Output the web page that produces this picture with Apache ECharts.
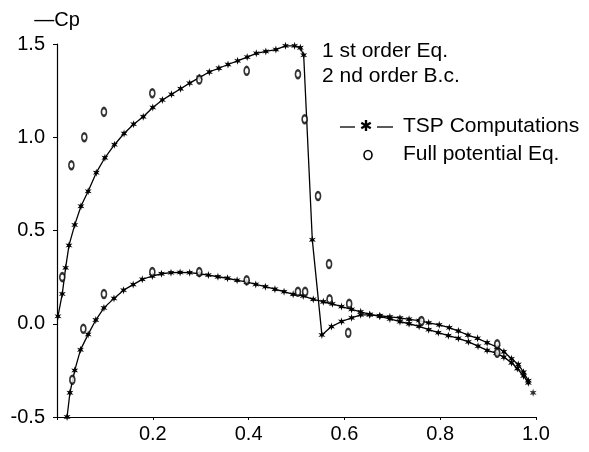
<!DOCTYPE html>
<html>
<head>
<meta charset="utf-8">
<script src="https://cdn.jsdelivr.net/npm/echarts@6/dist/echarts.min.js"></script>
<style>html,body{margin:0;padding:0;background:#fff}#c{width:589px;height:452px}</style>
</head>
<body>
<div id="c"></div>
<script>
// TSP computations, upper surface (x/c, -Cp)
var upperX = [0.002,0.011,0.018,0.025,0.037,0.050,0.065,0.082,0.100,0.120,0.140,0.160,0.180,0.200,0.220,0.239,0.258,0.277,0.297,0.318,0.338,0.357,0.377,0.397,0.416,0.436,0.457,0.477,0.496,0.508,0.515,0.533,0.553,0.573,0.594,0.615,0.634,0.653,0.674,0.695,0.716,0.735,0.756,0.776,0.798,0.819,0.838,0.858,0.878,0.898,0.919,0.933,0.949,0.963,0.974,0.984];
var upperY = [0.04,0.16,0.30,0.42,0.53,0.63,0.71,0.81,0.89,0.96,1.02,1.07,1.11,1.16,1.20,1.23,1.26,1.29,1.32,1.35,1.37,1.39,1.41,1.43,1.45,1.46,1.47,1.49,1.49,1.48,1.44,0.45,-0.06,-0.015,0.012,0.032,0.048,0.048,0.043,0.037,0.031,0.024,0.017,0.005,-0.006,-0.021,-0.039,-0.061,-0.078,-0.102,-0.125,-0.150,-0.188,-0.218,-0.260,-0.305];
// TSP computations, lower surface
var lowerX = [0.021,0.027,0.037,0.049,0.065,0.081,0.098,0.119,0.139,0.159,0.178,0.199,0.218,0.238,0.257,0.277,0.297,0.316,0.336,0.356,0.376,0.396,0.415,0.435,0.455,0.474,0.493,0.514,0.535,0.556,0.575,0.594,0.615,0.634,0.653,0.674,0.695,0.716,0.735,0.756,0.776,0.796,0.817,0.838,0.859,0.879,0.898,0.917,0.933,0.949,0.961,0.974,0.984];
var lowerY = [-0.50,-0.37,-0.25,-0.14,-0.057,0.02,0.085,0.136,0.18,0.21,0.238,0.256,0.268,0.274,0.275,0.274,0.268,0.261,0.252,0.244,0.233,0.224,0.211,0.199,0.185,0.172,0.158,0.149,0.131,0.118,0.107,0.092,0.077,0.064,0.050,0.040,0.026,0.011,0.000,-0.014,-0.032,-0.048,-0.064,-0.078,-0.097,-0.120,-0.143,-0.158,-0.179,-0.209,-0.240,-0.280,-0.317];
// TSP trailing-edge point
var teX = [0.994];
var teY = [-0.37];
// Full potential equation
var fpX = [0.011,0.030,0.057,0.098,0.199,0.297,0.396,0.503,0.517,0.545,0.568,0.608,0.032,0.055,0.098,0.199,0.297,0.396,0.503,0.518,0.569,0.610,0.761,0.919,0.919];
var fpY = [0.25,0.85,1.00,1.136,1.236,1.31,1.356,1.338,1.097,0.685,0.32,-0.048,-0.30,-0.027,0.16,0.277,0.277,0.233,0.172,0.172,0.131,0.107,0.015,-0.11,-0.155];
// axis ticks
var xTicks = [0.2,0.4,0.6,0.8,1.0];
var yTicks = [-0.5,0.0,0.5,1.0,1.5];
var yName = '\u2014Cp';
var legendLines = ['1 st order Eq.','2 nd order B.c.'];
var legendNames = ['TSP Computations','Full potential Eq.'];

function zip(a,b){return a.map(function(v,i){return [v,b[i]];});}
var star = 'path://M0,-100 L20,-35 L87,-50 L40,0 L87,50 L20,35 L0,100 L-20,35 L-87,50 L-40,0 L-87,-50 L-20,-35 Z';
var FONT = '"Liberation Sans", Arial, Helvetica, sans-serif';

var chart = echarts.init(document.getElementById('c'), null, {renderer:'canvas'});
chart.setOption({
  animation:false,
  backgroundColor:'#fff',
  textStyle:{fontFamily:FONT},
  grid:{left:57,right:53,top:44,bottom:35,containLabel:false},
  xAxis:{type:'value',min:0,max:1,interval:0.2,
    axisLine:{onZero:false,lineStyle:{color:'#000',width:1.2}},
    axisTick:{show:true,length:3,lineStyle:{color:'#000'}},
    splitLine:{show:false},
    axisLabel:{color:'#000',fontSize:20,fontFamily:FONT,margin:7,
      formatter:function(v){var t=xTicks.filter(function(k){return Math.abs(k-v)<1e-6;});return t.length?t[0].toFixed(1):'';}}},
  yAxis:{type:'value',min:-0.5,max:1.5,interval:0.5,
    name:yName,nameLocation:'end',nameGap:14,
    nameTextStyle:{color:'#000',fontSize:20,fontFamily:FONT,align:'center'},
    axisLine:{show:true,onZero:false,lineStyle:{color:'#000',width:1.2}},
    axisTick:{show:true,length:4,lineStyle:{color:'#000'}},
    splitLine:{show:false},
    axisLabel:{color:'#000',fontSize:20,fontFamily:FONT,margin:12,
      formatter:function(v){var t=yTicks.filter(function(k){return Math.abs(k-v)<1e-6;});return t.length?t[0].toFixed(1):'';}}},
  series:[
    {type:'line',data:zip(upperX,upperY),symbol:star,symbolSize:[7,8],showSymbol:true,
      lineStyle:{color:'#000',width:1.3},itemStyle:{color:'#000'},z:3},
    {type:'line',data:zip(lowerX,lowerY),symbol:star,symbolSize:[7,8],showSymbol:true,
      lineStyle:{color:'#000',width:1.3},itemStyle:{color:'#000'},z:3},
    {type:'scatter',data:zip(teX,teY),symbol:star,symbolSize:[7,8],itemStyle:{color:'#000'},z:3},
    {type:'scatter',data:zip(fpX,fpY),symbol:'emptyCircle',symbolSize:[5,8],
      itemStyle:{color:'#000',borderColor:'#000',borderWidth:1.8},z:4}
  ],
  graphic:[
    {type:'text',left:322,top:52-11,style:{text:legendLines[0],fill:'#000',font:'21px '+FONT}},
    {type:'text',left:322,top:77-11,style:{text:legendLines[1],fill:'#000',font:'21px '+FONT}},
    {type:'line',shape:{x1:340,y1:127,x2:355,y2:127},style:{stroke:'#000',lineWidth:1.3}},
    {type:'line',shape:{x1:377,y1:127,x2:393,y2:127},style:{stroke:'#000',lineWidth:1.3}},
    {type:'text',x:366,y:127,style:{text:'\u2731',fill:'#000',font:'15px "DejaVu Sans"',align:'center',verticalAlign:'middle'}},
    {type:'text',left:403,top:127-11,style:{text:legendNames[0],fill:'#000',font:'21px '+FONT}},
    {type:'ellipse',shape:{cx:368,cy:155,rx:4,ry:4.5},style:{fill:'none',stroke:'#000',lineWidth:1.6}},
    {type:'text',left:403,top:155-11,style:{text:legendNames[1],fill:'#000',font:'21px '+FONT}}
  ]
});
</script>
</body>
</html>
